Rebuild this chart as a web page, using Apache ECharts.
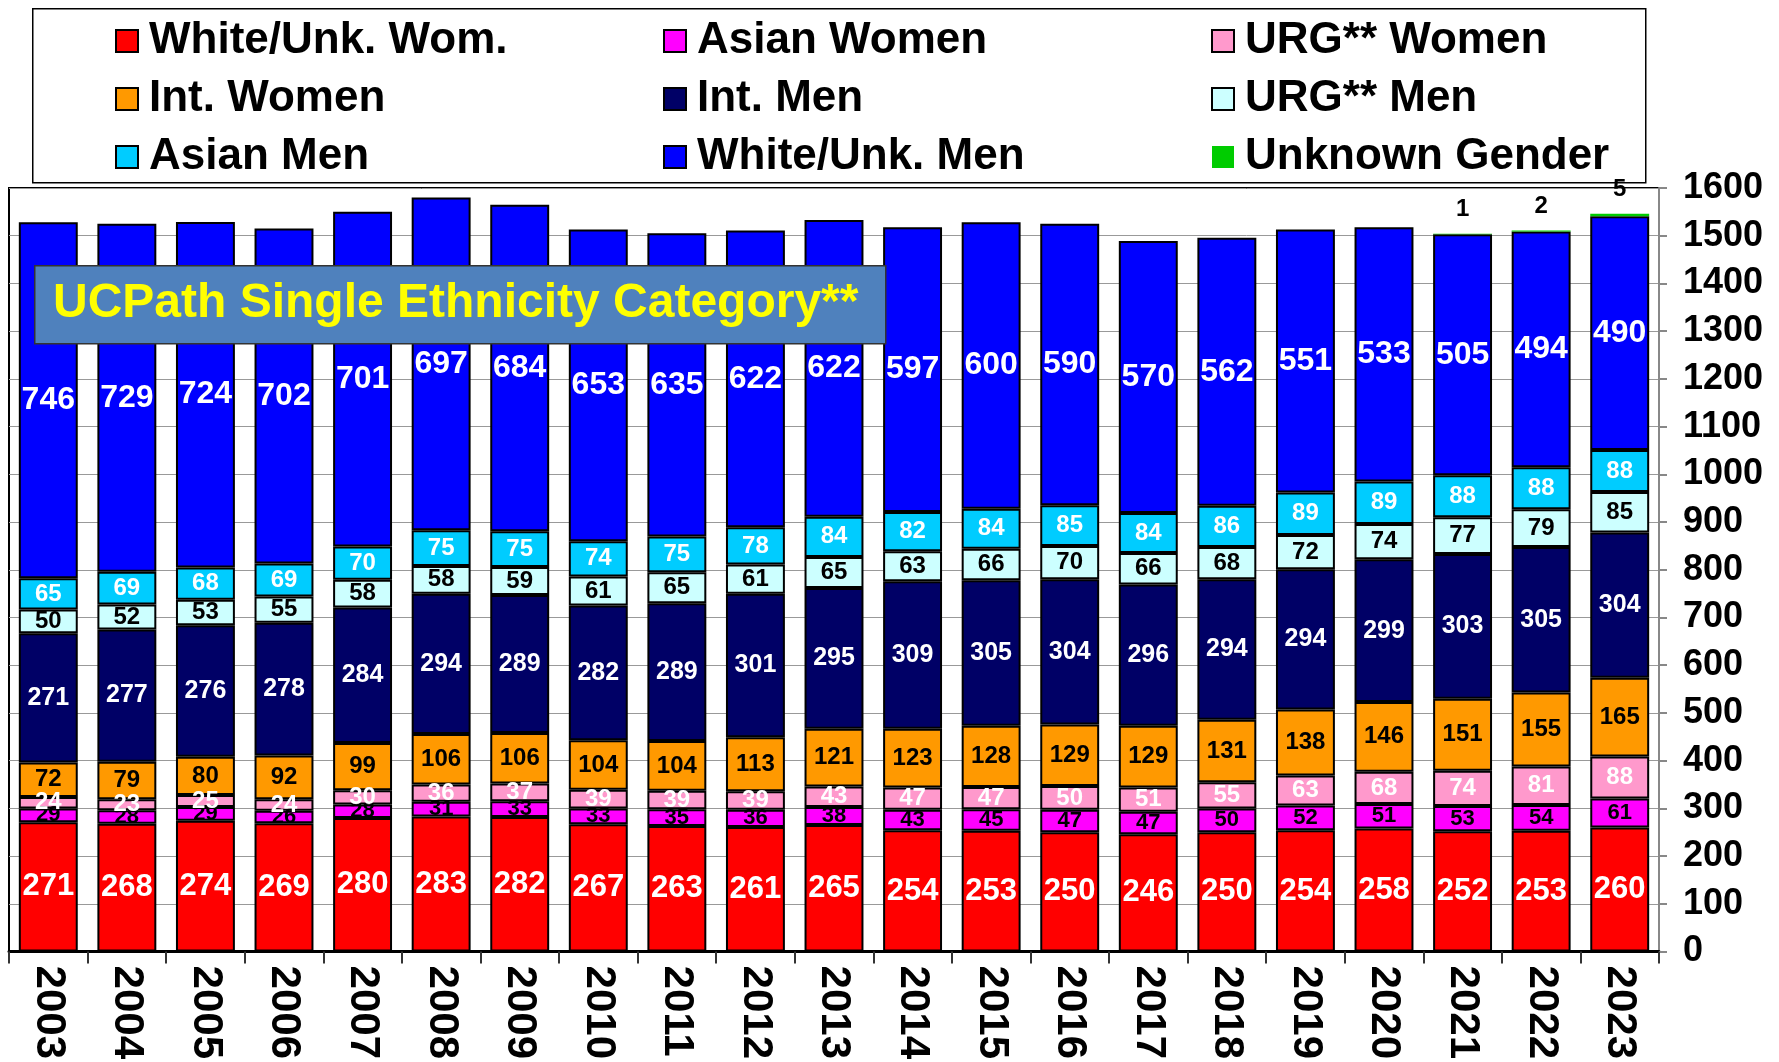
<!DOCTYPE html>
<html>
<head>
<meta charset="utf-8">
<script src="https://cdn.jsdelivr.net/npm/echarts@6/dist/echarts.min.js"></script>
<style>
  html, body { margin: 0; padding: 0; background: #fff; }
  #chart { width: 1779px; height: 1062px; }
</style>
</head>
<body>
<div id="chart"></div>
<script>
  // data
  var years = ['2003', '2004', '2005', '2006', '2007', '2008', '2009', '2010', '2011', '2012', '2013',
    '2014', '2015', '2016', '2017', '2018', '2019', '2020', '2021', '2022', '2023']
  var whiteWomen = [271, 268, 274, 269, 280, 283, 282, 267, 263, 261, 265, 254, 253, 250, 246, 250, 254, 258, 252, 253, 260]
  var asianWomen = [29, 28, 29, 26, 28, 31, 33, 33, 35, 36, 38, 43, 45, 47, 47, 50, 52, 51, 53, 54, 61]
  var urgWomen = [24, 23, 25, 24, 30, 36, 37, 39, 39, 39, 43, 47, 47, 50, 51, 55, 63, 68, 74, 81, 88]
  var intWomen = [72, 79, 80, 92, 99, 106, 106, 104, 104, 113, 121, 123, 128, 129, 129, 131, 138, 146, 151, 155, 165]
  var intMen = [271, 277, 276, 278, 284, 294, 289, 282, 289, 301, 295, 309, 305, 304, 296, 294, 294, 299, 303, 305, 304]
  var urgMen = [50, 52, 53, 55, 58, 58, 59, 61, 65, 61, 65, 63, 66, 70, 66, 68, 72, 74, 77, 79, 85]
  var asianMen = [65, 69, 68, 69, 70, 75, 75, 74, 75, 78, 84, 82, 84, 85, 84, 86, 89, 89, 88, 88, 88]
  var whiteMen = [746, 729, 724, 702, 701, 697, 684, 653, 635, 622, 622, 597, 600, 590, 570, 562, 551, 533, 505, 494, 490]
  var unknownGender = [0, 0, 0, 0, 0, 0, 0, 0, 0, 0, 0, 0, 0, 0, 0, 0, 0, 0, 1, 2, 5]

  var FONT = '"Liberation Sans", Arial, sans-serif'

  function seg(name, data, color, labelColor, fontSize) {
    return {
      name: name,
      type: 'bar',
      stack: 'total',
      barCategoryGap: '25%',
      data: data,
      itemStyle: {color: color, borderColor: '#000', borderWidth: 2},
      label: {
        show: true,
        position: 'inside',
        color: labelColor,
        fontFamily: FONT,
        fontWeight: 'bold',
        fontSize: fontSize
      }
    }
  }

  var series = [
    seg('White/Unk. Wom.', whiteWomen, '#ff0000', '#fff', 31),
    seg('Asian Women', asianWomen, '#ff00ff', '#000', 22),
    seg('URG** Women', urgWomen, '#ff99cc', '#fff', 24),
    seg('Int. Women', intWomen, '#ff9900', '#000', 24),
    seg('Int. Men', intMen, '#000066', '#fff', 25),
    seg('URG** Men', urgMen, '#ccffff', '#000', 24),
    seg('Asian Men', asianMen, '#00ccff', '#fff', 24),
    seg('White/Unk. Men', whiteMen, '#0000ff', '#fff', 32),
    {
      name: 'Unknown Gender',
      type: 'bar',
      stack: 'total',
      data: unknownGender,
      itemStyle: {color: '#00cc00', borderColor: '#000', borderWidth: 0},
      label: {
        show: true,
        position: 'top',
        distance: 12,
        color: '#000',
        fontFamily: FONT,
        fontWeight: 'bold',
        fontSize: 24,
        formatter: function (p) { return p.value ? String(p.value) : '' }
      }
    }
  ]

  function legendCol(left, names) {
    return {
      orient: 'vertical',
      left: left,
      top: 14,
      data: names,
      icon: 'rect',
      itemWidth: 22,
      itemHeight: 22,
      itemGap: 14,
      selectedMode: false,
      textStyle: {
        fontFamily: FONT,
        fontWeight: 'bold',
        fontSize: 44,
        lineHeight: 44,
        color: '#000',
        padding: [0, 0, 0, 6]
      }
    }
  }

  var chart = echarts.init(document.getElementById('chart'))
  chart.setOption({
    animation: false,
    backgroundColor: '#fff',
    legend: [
      legendCol(110, ['White/Unk. Wom.', 'Int. Women', 'Asian Men']),
      legendCol(658, ['Asian Women', 'Int. Men', 'White/Unk. Men']),
      legendCol(1206, ['URG** Women', 'URG** Men', 'Unknown Gender'])
    ],
    grid: {
      left: 9,
      right: 120,
      top: 188,
      bottom: 109,
      show: true,
      borderColor: '#000',
      borderWidth: 2,
      backgroundColor: 'transparent'
    },
    xAxis: {
      type: 'category',
      data: years,
      axisLine: {lineStyle: {color: '#000', width: 3}},
      axisTick: {show: true, length: 12, lineStyle: {color: '#333', width: 2}},
      axisLabel: {
        rotate: -90,
        margin: 14,
        fontFamily: FONT,
        fontWeight: 'bold',
        fontSize: 42,
        color: '#000'
      }
    },
    yAxis: {
      type: 'value',
      position: 'right',
      min: 0,
      max: 1600,
      interval: 100,
      axisLine: {show: true, lineStyle: {color: '#888', width: 2}},
      axisTick: {show: true, length: 8, lineStyle: {color: '#888', width: 2}},
      splitLine: {show: true, lineStyle: {color: '#999', width: 1}},
      axisLabel: {
        margin: 24,
        fontFamily: FONT,
        fontWeight: 'bold',
        fontSize: 36,
        color: '#000',
        formatter: function (v) { return String(v) }
      }
    },
    graphic: [
      {
        type: 'rect',
        left: 32,
        top: 8,
        shape: {width: 1613, height: 174},
        style: {fill: 'transparent', stroke: '#000', lineWidth: 1.5},
        z: 0
      },
      {
        type: 'rect',
        left: 34,
        top: 265,
        z: 100,
        zlevel: 1,
        shape: {width: 851, height: 78},
        style: {fill: '#4f81bd', stroke: '#333', lineWidth: 1.5}
      },
      {
        type: 'text',
        left: 53,
        top: 280,
        z: 101,
        zlevel: 1,
        style: {
          text: 'UCPath Single Ethnicity Category**',
          fill: '#ffff00',
          font: 'bold 48px ' + FONT
        }
      }
    ],
    series: series
  })
</script>
</body>
</html>
